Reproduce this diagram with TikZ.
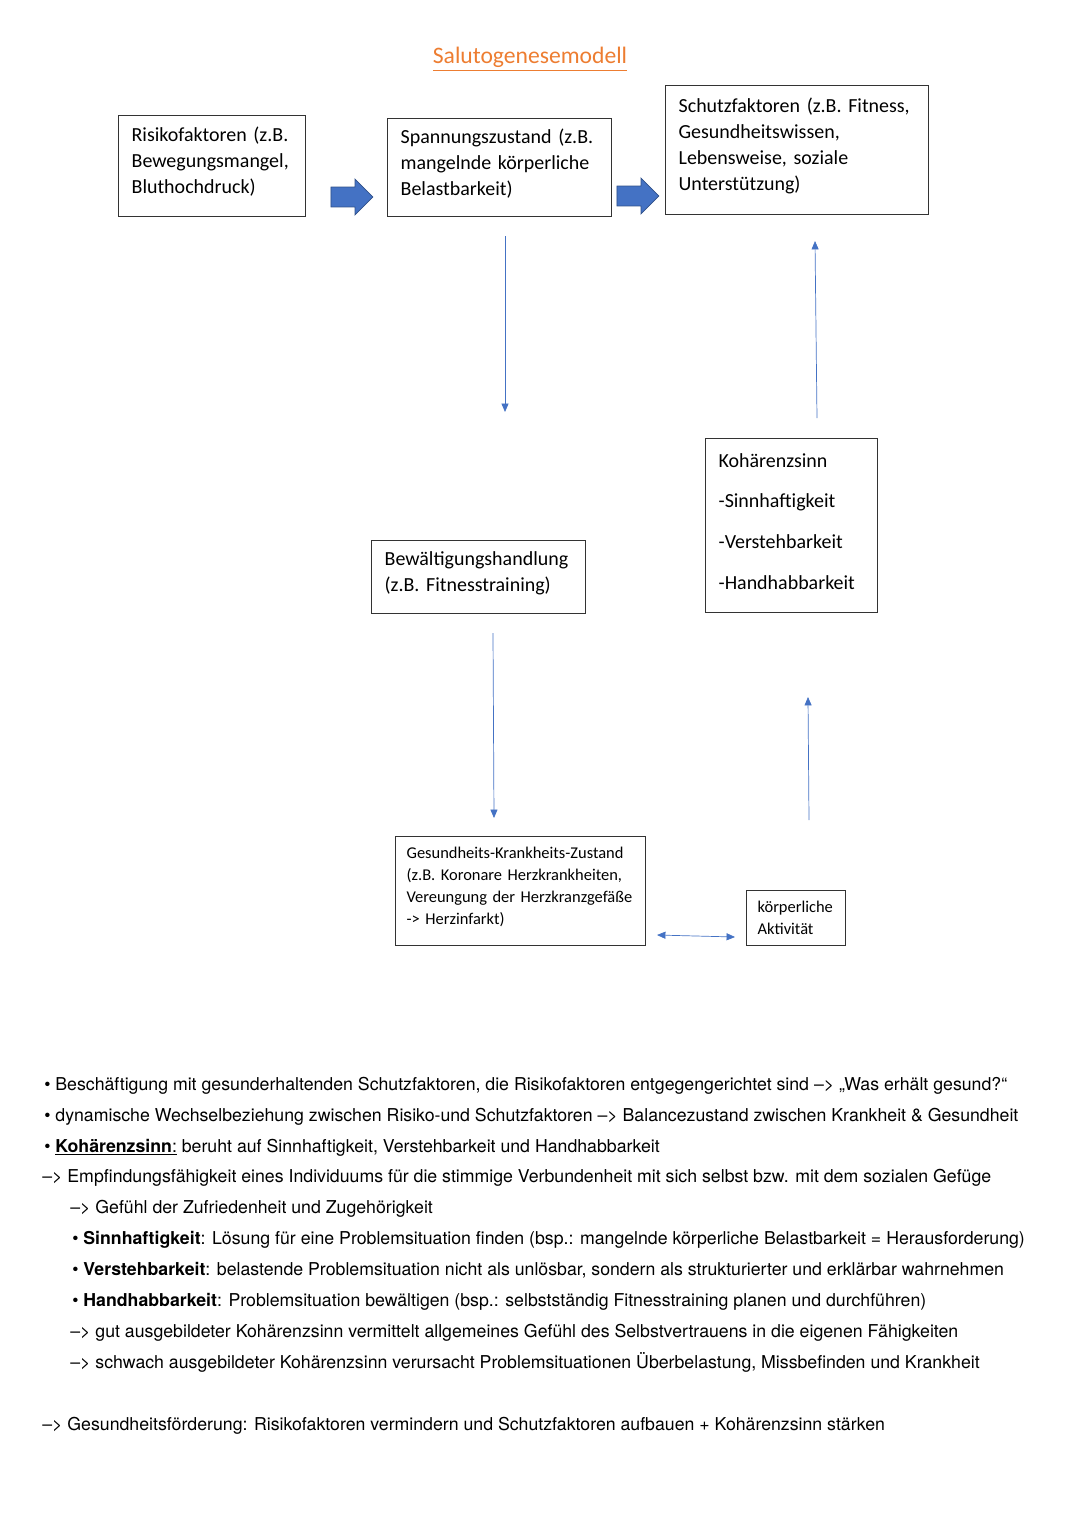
\documentclass[tikz,border=0pt]{standalone}
\usepackage{fontspec}
\setmainfont{TeX Gyre Heros}
\newfontfamily\boxfont{Carlito}
\usetikzlibrary{arrows.meta,shapes.arrows}
\definecolor{arrowblue}{HTML}{4472C4}
\definecolor{titleorange}{HTML}{ED7D31}
\tikzset{
	plainbox/.style={draw=black!80, line width=0.9pt, anchor=north west, align=left, inner xsep=0.325cm, inner ysep=0pt, font=\boxfont\fontsize{14.2}{18.5}\selectfont},
	box/.style={plainbox, execute at end node={\par\vskip 6pt\hrule height 0pt}},
	smallbox/.style={box, inner xsep=0.275cm, font=\boxfont\fontsize{11.7}{15.6}\selectfont},
	link/.style={arrowblue, line width=0.5pt, -{Triangle[width=5pt,length=6pt]}},
	blockarrow/.style={single arrow, fill=arrowblue, draw=arrowblue!70!black, line width=0.5pt, inner xsep=0pt, inner ysep=0.24cm, minimum height=1.05cm, single arrow head extend=0.2cm, single arrow head indent=0pt},
	note/.style={anchor=base west, inner sep=0pt, font=\fontsize{12.6}{15}\selectfont}
}
\begin{document}
\begin{tikzpicture}[x=0.025cm,y=-0.025cm]
	\useasboundingbox (0,0) rectangle (1080,1527);
%		title
		\node[text=titleorange, font=\boxfont\fontsize{16.8}{20}\selectfont] (t) at (530,59) {\underline{Salutogenesemodell}};
%		top
		\node[box, text width=4.025cm, minimum height=2.525cm] (00) at (118,115) {Risikofaktoren (z.B.\\ Bewegungsmangel,\\ Bluthochdruck)};
		\node[box, text width=4.95cm, minimum height=2.45cm] (01) at (387,118) {Spannungszustand (z.B.\\ mangelnde körperliche\\ Belastbarkeit)};
		\node[box, text width=5.925cm, minimum height=3.225cm] (02) at (665,85) {Schutzfaktoren (z.B. Fitness,\\ Gesundheitswissen,\\ Lebensweise, soziale\\ Unterstützung)};
		\node[blockarrow] (a0) at (347,197) {};
		\node[blockarrow] (a1) at (633,196) {};
%		middle
		\node[box, text width=4.7cm, minimum height=1.825cm] (10) at (371,540) {Bewältigungshandlung\\ (z.B. Fitnesstraining)};
		\node[box, text width=3.65cm, minimum height=4.35cm, font=\boxfont\fontsize{14.2}{29}\selectfont] (11) at (705,438) {Kohärenzsinn\\ -Sinnhaftigkeit\\ -Verstehbarkeit\\ -Handhabbarkeit};
%		bottom
		\node[smallbox, text width=5.7cm, minimum height=2.725cm] (20) at (395,836) {Gesundheits-Krankheits-Zustand\\ (z.B. Koronare Herzkrankheiten,\\ Vereungung der Herzkranzgefäße\\ -> Herzinfarkt)};
		\node[plainbox, inner xsep=0.275cm, font=\boxfont\fontsize{11.7}{15.6}\selectfont, text width=1.925cm, minimum height=1.375cm] (21) at (746,890) {körperliche\\ Aktivität};
%		links
		\coordinate (c0) at (505,236);
		\coordinate (c1) at (505,412);
		\coordinate (c2) at (817,418);
		\coordinate (c3) at (815,241);
		\coordinate (c4) at (493,633);
		\coordinate (c5) at (494,818);
		\coordinate (c6) at (809,820);
		\coordinate (c7) at (808,697);
		\coordinate (c8) at (657,935);
		\coordinate (c9) at (735,937);
		\draw[link] (c0) -- (c1);
		\draw[link] (c2) -- (c3);
		\draw[link] (c4) -- (c5);
		\draw[link] (c6) -- (c7);
		\draw[link, {Triangle[width=5pt,length=6pt]}-{Triangle[width=5pt,length=6pt]}] (c8) -- (c9);
%		notes
		\node[note] (n0) at (44,1090) {• Beschäftigung mit gesunderhaltenden Schutzfaktoren, die Risikofaktoren entgegengerichtet sind –> „Was erhält gesund?“};
		\node[note] (n1) at (44,1121) {• dynamische Wechselbeziehung zwischen Risiko-und Schutzfaktoren –> Balancezustand zwischen Krankheit \& Gesundheit};
		\node[note] (n2) at (44,1152) {• \underline{\textbf{Kohärenzsinn}:} beruht auf Sinnhaftigkeit, Verstehbarkeit und Handhabbarkeit};
		\node[note] (n3) at (42,1182) {–> Empfindungsfähigkeit eines Individuums für die stimmige Verbundenheit mit sich selbst bzw. mit dem sozialen Gefüge};
		\node[note] (n4) at (70,1213) {–> Gefühl der Zufriedenheit und Zugehörigkeit};
		\node[note] (n5) at (72,1244) {• \textbf{Sinnhaftigkeit}: Lösung für eine Problemsituation finden (bsp.: mangelnde körperliche Belastbarkeit = Herausforderung)};
		\node[note] (n6) at (72,1275) {• \textbf{Verstehbarkeit}: belastende Problemsituation nicht als unlösbar, sondern als strukturierter und erklärbar wahrnehmen};
		\node[note] (n7) at (72,1306) {• \textbf{Handhabbarkeit}: Problemsituation bewältigen (bsp.: selbstständig Fitnesstraining planen und durchführen)};
		\node[note] (n8) at (70,1337) {–> gut ausgebildeter Kohärenzsinn vermittelt allgemeines Gefühl des Selbstvertrauens in die eigenen Fähigkeiten};
		\node[note] (n9) at (70,1368) {–> schwach ausgebildeter Kohärenzsinn verursacht Problemsituationen Überbelastung, Missbefinden und Krankheit};
		\node[note] (n10) at (42,1430) {–> Gesundheitsförderung: Risikofaktoren vermindern und Schutzfaktoren aufbauen + Kohärenzsinn stärken};
\end{tikzpicture}
\end{document}
